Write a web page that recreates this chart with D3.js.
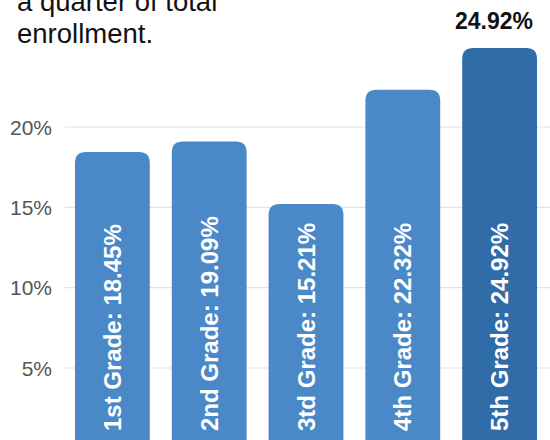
<!DOCTYPE html>
<html>
<head>
<meta charset="utf-8">
<script src="https://cdn.jsdelivr.net/npm/d3@7"></script>
<style>
  body { margin: 0; background: #fff; }
  svg { display: block; font-family: "Liberation Sans", Arial, sans-serif; }
</style>
</head>
<body>
<div id="chart"></div>
<script>
const grades = ["1st Grade", "2nd Grade", "3td Grade", "4th Grade", "5th Grade"];
const shares = [18.45, 19.09, 15.21, 22.32, 24.92];
const ticks = [5, 10, 15, 20];
const titleLines = ["a quarter of total", "enrollment."];

const width = 550;
const height = 440;

const svg = d3.select("#chart").append("svg")
    .attr("width", width)
    .attr("height", height);

// title (its first line runs off the top, as in the source image)
svg.append("g").selectAll("text")
    .data(titleLines)
    .enter().append("text")
    .attr("x", 17)
    .attr("y", (d, i) => 11 + i * 32)
    .attr("font-size", 27.5)
    .attr("fill", "#111")
    .text(d => d);

const x = d3.scaleBand()
    .domain(grades)
    .range([65, 547])
    .paddingInner(0.227)
    .paddingOuter(0.103);

const y = d3.scaleLinear()
    .domain([0, 20])
    .range([448.3, 127]);

// gridlines
svg.append("g").selectAll("line")
    .data(ticks)
    .enter().append("line")
    .attr("x1", 65)
    .attr("x2", width)
    .attr("y1", d => y(d))
    .attr("y2", d => y(d))
    .attr("stroke", "#e2e2e2")
    .attr("stroke-width", 1.2);

svg.append("g").selectAll("text")
    .data(ticks)
    .enter().append("text")
    .attr("x", 52)
    .attr("y", d => y(d))
    .attr("dy", "0.36em")
    .attr("text-anchor", "end")
    .attr("font-size", 21)
    .attr("fill", "#555")
    .text(d => d + "%");

const data = grades.map((g, i) => ({ grade: g, value: shares[i], max: shares[i] === d3.max(shares) }));

function topRounded(x0, y0, w, y1, r) {
    return "M" + x0 + "," + y1 +
        "V" + (y0 + r) +
        "Q" + x0 + "," + y0 + " " + (x0 + r) + "," + y0 +
        "H" + (x0 + w - r) +
        "Q" + (x0 + w) + "," + y0 + " " + (x0 + w) + "," + (y0 + r) +
        "V" + y1 + "Z";
}

svg.append("g").selectAll("path")
    .data(data)
    .enter().append("path")
    .attr("d", d => topRounded(x(d.grade), y(d.value), x.bandwidth(), y(0), 11))
    .attr("fill", d => d.max ? "#2f6ca8" : "#4a88c8");

svg.append("g").selectAll("text")
    .data(data)
    .enter().append("text")
    .attr("transform", d => "translate(" + (x(d.grade) + x.bandwidth() / 2) + ",431) rotate(-90)")
    .attr("dy", "0.36em")
    .attr("font-size", 24)
    .attr("font-weight", "bold")
    .attr("fill", "#fff")
    .text(d => d.grade + ": " + d.value.toFixed(2) + "%");

// value callout on the largest bar
svg.append("g").selectAll("text")
    .data(data.filter(d => d.max))
    .enter().append("text")
    .attr("x", d => x(d.grade) + x.bandwidth() - 4)
    .attr("y", d => y(d.value) - 19)
    .attr("text-anchor", "end")
    .attr("font-size", 23)
    .attr("font-weight", "bold")
    .attr("fill", "#111")
    .text(d => d.value.toFixed(2) + "%");
</script>
</body>
</html>
